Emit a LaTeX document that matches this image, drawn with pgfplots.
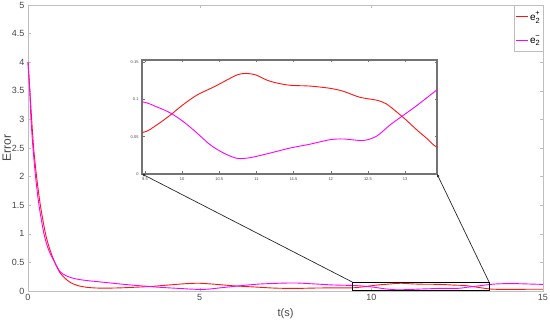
\documentclass[border=0pt]{standalone}
\usepackage{fontspec}
\setmainfont{Liberation Sans}
\usepackage{pgfplots}
\pgfplotsset{compat=1.18}
\usetikzlibrary{arrows.meta}
\definecolor{redline}{RGB}{255,20,20}
\definecolor{magline}{RGB}{255,0,255}
\definecolor{axgray}{RGB}{190,190,190}
\definecolor{txtgray}{RGB}{70,70,70}
\newcommand{\eidx}[1]{e\raisebox{-0.45ex}{\fontsize{7.5}{7.5}\selectfont 2}\llap{\raisebox{1.0ex}{\fontsize{7.5}{7.5}\selectfont #1}}}

% e2+ (red)
\pgfplotstableread{
t v
0 4.0
0.05 3.55
0.107 3.0
0.165 2.5
0.25 2.0
0.36 1.5
0.51 1.0
0.64 0.72
0.78 0.5
0.93 0.32
1.1 0.21
1.26 0.14
1.45 0.095
1.7 0.065
2.0 0.052
2.3 0.05
2.7 0.055
3.1 0.065
3.6 0.08
4.1 0.105
4.6 0.128
5.0 0.135
5.5 0.115
6.0 0.09
6.6 0.07
7.2 0.05
7.8 0.045
8.4 0.052
9.0 0.055
9.46 0.0555
9.66 0.066
9.84 0.079
10.0 0.092
10.2 0.106
10.43 0.117
10.6 0.126
10.74 0.133
10.85 0.135
10.99 0.133
11.14 0.126
11.28 0.122
11.46 0.119
11.72 0.118
11.99 0.115
12.17 0.111
12.39 0.103
12.62 0.099
12.75 0.094
12.89 0.083
13.02 0.072
13.16 0.059
13.29 0.048
13.43 0.036
13.7 0.028
14.1 0.028
14.6 0.03
15 0.03
}\tabplus

% e2- (magenta)
\pgfplotstableread{
t v
0 4.0
0.05 3.5
0.087 3.0
0.145 2.5
0.22 2.0
0.32 1.5
0.465 1.0
0.6 0.72
0.78 0.5
0.93 0.34
1.1 0.27
1.3 0.225
1.5 0.2
1.75 0.18
2.0 0.165
2.4 0.14
2.9 0.11
3.4 0.085
3.9 0.062
4.4 0.045
4.85 0.03
5.2 0.03
5.6 0.055
6.15 0.09
6.7 0.12
7.3 0.135
7.8 0.14
8.3 0.125
8.9 0.105
9.46 0.097
9.66 0.09
9.84 0.082
10.02 0.07
10.2 0.055
10.38 0.039
10.56 0.028
10.74 0.021
10.92 0.022
11.18 0.028
11.46 0.035
11.72 0.04
11.99 0.046
12.17 0.047
12.44 0.045
12.62 0.051
12.8 0.066
12.98 0.079
13.16 0.092
13.34 0.106
13.43 0.113
13.7 0.125
14.1 0.13
14.6 0.122
15 0.115
}\tabminus

\begin{document}
\begin{tikzpicture}
\useasboundingbox (0,0) rectangle (550pt,320pt);
\begin{axis}[
  at={(28pt,29pt)}, anchor=south west,
  scale only axis, width=515pt, height=286pt,
  xmin=0, xmax=15, ymin=0, ymax=5,
  xtick={0,5,10,15}, xticklabels={0,5,10,15},
  ytick={0,0.5,1,1.5,2,2.5,3,3.5,4,4.5,5},
  yticklabels={0,0.5,1,1.5,2,2.5,3,3.5,4,4.5,5},
  tick align=inside, major tick length=3pt,
  axis line style={axgray},
  major tick style={axgray},
  every tick label/.append style={font=\fontsize{9}{10}\selectfont, text=txtgray},
  xlabel={t(s)}, ylabel={Error},
  xlabel style={font=\fontsize{11}{12}\selectfont, text=txtgray, yshift=-1pt},
  ylabel style={font=\fontsize{12}{13}\selectfont, text=txtgray, yshift=-6pt},
  clip=false,
  legend style={at={(1,1)}, anchor=north east, draw=axgray,
    font=\fontsize{10}{11}\selectfont, inner xsep=1pt, inner ysep=4pt, row sep=9pt,
    legend cell align=left},
]
\addplot[draw=redline, line width=0.9pt, smooth,
  legend image code/.code={\draw[redline, line width=0.9pt] (0pt,0pt) -- (12pt,0pt);}]
  table[x=t, y=v] {\tabplus};
\addlegendentry{\eidx{+}}
\addplot[draw=magline, line width=0.9pt, smooth,
  legend image code/.code={\draw[magline, line width=1pt] (0pt,0pt) -- (12pt,0pt);}]
  table[x=t, y=v] {\tabminus};
\addlegendentry{\eidx{−}}
\draw[black, line width=1pt] (axis cs:9.45,0) rectangle (axis cs:13.43,0.155);
\coordinate (rTL) at (axis cs:9.45,0.155);
\coordinate (rTR) at (axis cs:13.43,0.155);
\end{axis}
\begin{axis}[
  at={(142pt,146pt)}, anchor=south west,
  scale only axis, width=295pt, height=114pt,
  xmin=9.46, xmax=13.43, ymin=0, ymax=0.153,
  xtick={9.5,10,10.5,11,11.5,12,12.5,13},
  xticklabels={9.5,10,10.5,11,11.5,12,12.5,13},
  ytick={0,0.05,0.1,0.15}, yticklabels={0,0.05,0.1,0.15},
  tick align=inside, major tick length=2.5pt,
  axis background/.style={fill=white},
  axis line style={black!55, line width=1.2pt},
  major tick style={black!55, line width=0.5pt},
  every tick label/.append style={font=\fontsize{4}{4.5}\selectfont, text=txtgray},
]
\addplot[draw=redline, line width=0.9pt, smooth] table[x=t, y=v] {\tabplus};
\addplot[draw=magline, line width=0.9pt, smooth] table[x=t, y=v] {\tabminus};
\coordinate (iBL) at (rel axis cs:0,0);
\coordinate (iBR) at (rel axis cs:1,0);
\end{axis}
\draw[black!85, line width=0.7pt, -{Latex[length=3pt,width=3pt]}] (rTL) -- (iBL);
\draw[black!85, line width=0.7pt, -{Latex[length=3pt,width=3pt]}] (rTR) -- (iBR);
\end{tikzpicture}
\end{document}
